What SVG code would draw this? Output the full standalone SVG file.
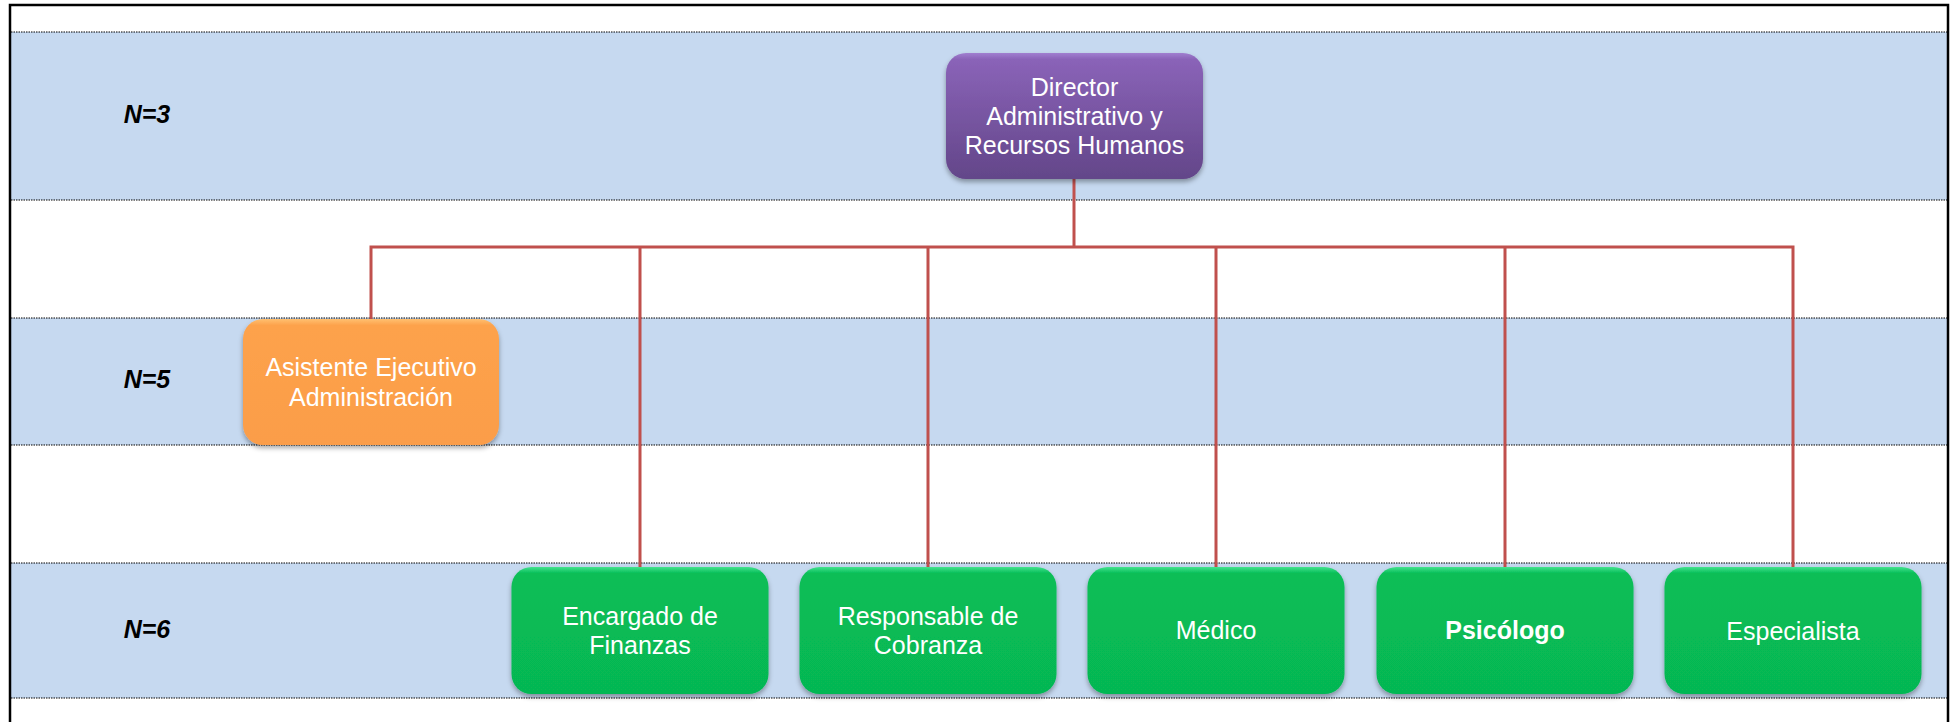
<svg xmlns="http://www.w3.org/2000/svg" width="1955" height="722" viewBox="0 0 1955 722">
<style>
.band{fill:#c6d9f0}
.dot{stroke:#000;stroke-width:1;stroke-dasharray:1.5 1;fill:none}
.frame{stroke:#000;stroke-width:2.5;fill:none}
.lbl{font-family:"Liberation Sans",Arial,sans-serif;font-size:25px;font-weight:bold;font-style:italic;fill:#000;text-anchor:middle}
.t{font-family:"Liberation Sans",Arial,sans-serif;font-size:25px;fill:#fff;text-anchor:middle}
.b{font-weight:bold}
.conn{stroke:#c0504d;stroke-width:3;fill:none}
</style>
<defs>
<linearGradient id="gPurple" x1="0" y1="0" x2="0" y2="1">
<stop offset="0" stop-color="#a07fd0"/>
<stop offset="0.05" stop-color="#8a63b8"/>
<stop offset="1" stop-color="#634689"/>
</linearGradient>
<linearGradient id="gOrange" x1="0" y1="0" x2="0" y2="1">
<stop offset="0" stop-color="#ffc070"/>
<stop offset="0.05" stop-color="#fda24c"/>
<stop offset="1" stop-color="#fb9d48"/>
</linearGradient>
<linearGradient id="gGreen" x1="0" y1="0" x2="0" y2="1">
<stop offset="0" stop-color="#44e38f"/>
<stop offset="0.05" stop-color="#08be57"/>
<stop offset="1" stop-color="#06b752"/>
</linearGradient>
<filter id="sh" x="-10%" y="-10%" width="120%" height="130%">
<feDropShadow dx="0" dy="3" stdDeviation="2.5" flood-color="#000" flood-opacity="0.35"/>
</filter>
</defs>
<rect x="0" y="0" width="1955" height="722" fill="#fff"/>
<g id="bands">
<rect class="band" x="11" y="32" width="1936" height="168"/>
<rect class="band" x="11" y="318" width="1936" height="127"/>
<rect class="band" x="11" y="563" width="1936" height="135"/>
<line class="dot" x1="11" y1="32" x2="1947" y2="32"/>
<line class="dot" x1="11" y1="200" x2="1947" y2="200"/>
<line class="dot" x1="11" y1="318" x2="1947" y2="318"/>
<line class="dot" x1="11" y1="445" x2="1947" y2="445"/>
<line class="dot" x1="11" y1="563" x2="1947" y2="563"/>
<line class="dot" x1="11" y1="698" x2="1947" y2="698"/>
<text class="lbl" x="147" y="123">N=3</text>
<text class="lbl" x="147" y="388">N=5</text>
<text class="lbl" x="147" y="638">N=6</text>
</g>
<path class="frame" d="M10,722 V5 H1948 V722"/>
<g id="connectors">
<path class="conn" d="M1074,179 V247"/>
<path class="conn" d="M371,319 V247 H1793 V567"/>
<path class="conn" d="M640,247 V567"/>
<path class="conn" d="M928,247 V567"/>
<path class="conn" d="M1216,247 V567"/>
<path class="conn" d="M1505,247 V567"/>
</g>
<g id="director">
<rect x="946" y="53" width="257" height="126" rx="20" fill="url(#gPurple)" filter="url(#sh)"/>
<text class="t" x="1074.5" y="96">Director</text>
<text class="t" x="1074.5" y="125">Administrativo y</text>
<text class="t" x="1074.5" y="154">Recursos Humanos</text>
</g>
<g id="asistente">
<rect x="243" y="319" width="256" height="126" rx="20" fill="url(#gOrange)" filter="url(#sh)"/>
<text class="t" x="371" y="376">Asistente Ejecutivo</text>
<text class="t" x="371" y="406">Administración</text>
</g>
<g id="encargado">
<rect x="511.5" y="567" width="257" height="127" rx="20" fill="url(#gGreen)" filter="url(#sh)"/>
<text class="t" x="640" y="625">Encargado de</text>
<text class="t" x="640" y="654">Finanzas</text>
</g>
<g id="responsable">
<rect x="799.5" y="567" width="257" height="127" rx="20" fill="url(#gGreen)" filter="url(#sh)"/>
<text class="t" x="928" y="625">Responsable de</text>
<text class="t" x="928" y="654">Cobranza</text>
</g>
<g id="medico">
<rect x="1087.5" y="567" width="257" height="127" rx="20" fill="url(#gGreen)" filter="url(#sh)"/>
<text class="t" x="1216" y="639">Médico</text>
</g>
<g id="psicologo">
<rect x="1376.5" y="567" width="257" height="127" rx="20" fill="url(#gGreen)" filter="url(#sh)"/>
<text class="t b" x="1505" y="639">Psicólogo</text>
</g>
<g id="especialista">
<rect x="1664.5" y="567" width="257" height="127" rx="20" fill="url(#gGreen)" filter="url(#sh)"/>
<text class="t" x="1793" y="640">Especialista</text>
</g>
</svg>
